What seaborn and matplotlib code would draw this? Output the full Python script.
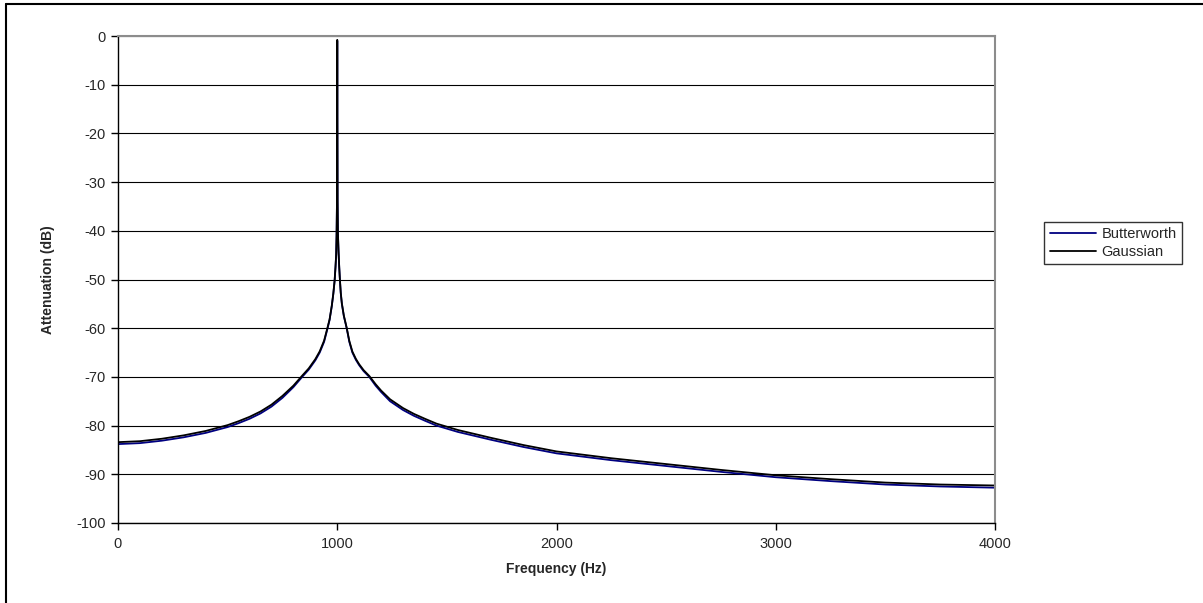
import pandas as pd
import numpy as np
import matplotlib
matplotlib.use("Agg")
import matplotlib.pyplot as plt
import seaborn as sns
from matplotlib.lines import Line2D

# frequency points (Hz)
freq = [0, 100, 200, 300, 400, 450, 500, 550, 600, 650, 700, 750, 800, 840, 870, 900,
        920, 940, 956, 965, 975, 982, 988, 992, 995, 997, 998.5, 1000, 1001.5, 1003,
        1006, 1009, 1012, 1016, 1021, 1030, 1043, 1055, 1069, 1085, 1100, 1120, 1146,
        1175, 1200, 1241, 1300, 1350, 1400, 1453, 1550, 1700, 1850, 2000, 2250, 2500,
        2750, 3000, 3250, 3500, 3750, 4000]

# attenuation (dB)
butterworth = [-83.8, -83.6, -83.1, -82.4, -81.5, -80.9, -80.3, -79.5, -78.6, -77.5,
               -76.1, -74.3, -72.1, -70.0, -68.5, -66.6, -65.0, -62.8, -60.0, -58.3,
               -55.5, -53.0, -50.3, -47.5, -45.0, -41.0, -35.0, -1.0, -34.0, -40.5,
               -44.5, -47.5, -50.0, -52.8, -55.0, -57.5, -60.0, -62.8, -65.0, -66.5,
               -67.6, -68.8, -70.0, -71.8, -73.1, -75.0, -76.8, -78.0, -79.0, -80.0,
               -81.3, -82.9, -84.4, -85.7, -87.1, -88.3, -89.5, -90.6, -91.4, -92.1,
               -92.5, -92.75]
gaussian = [-83.4, -83.2, -82.7, -82.0, -81.1, -80.5, -79.9, -79.1, -78.2, -77.1,
            -75.7, -73.9, -71.8, -69.75, -68.25, -66.35, -64.75, -62.55, -59.8, -58.2,
            -55.4, -52.9, -50.2, -47.4, -44.9, -40.9, -34.9, -0.8, -33.9, -40.4,
            -44.4, -47.4, -49.9, -52.7, -54.9, -57.4, -59.9, -62.6, -64.8, -66.3,
            -67.4, -68.6, -69.8, -71.5, -72.8, -74.6, -76.4, -77.6, -78.6, -79.6,
            -80.9, -82.5, -84.0, -85.3, -86.7, -87.9, -89.1, -90.2, -91.0, -91.7,
            -92.1, -92.3]

series_names = ["Butterworth", "Gaussian"]
y_ticks = list(range(-100, 1, 10))
x_ticks = [0, 1000, 2000, 3000, 4000]

df = pd.concat([
    pd.DataFrame({"Frequency": freq, "Attenuation": butterworth, "Filter": series_names[0]}),
    pd.DataFrame({"Frequency": freq, "Attenuation": gaussian, "Filter": series_names[1]}),
])

sns.set_style("white")
plt.rcParams["font.family"] = ["Liberation Sans", "DejaVu Sans"]
plt.rcParams["axes.unicode_minus"] = False

fig = plt.figure(figsize=(12.03, 6.03), dpi=100)
ax = fig.add_axes([118 / 1203, 80 / 603, 877 / 1203, 487 / 603])

sns.lineplot(data=df, x="Frequency", y="Attenuation", hue="Filter",
             palette={"Butterworth": "#000080", "Gaussian": "#000000"},
             linewidth=1.3, ax=ax, sort=False, estimator=None)

ax.set_xlim(0, 4000)
ax.set_ylim(-100, 0)
ax.set_xticks(x_ticks)
ax.set_yticks(y_ticks)
ax.yaxis.grid(True, color="black", linewidth=0.8)
ax.xaxis.grid(False)
ax.set_axisbelow(True)

for side in ["left", "bottom"]:
    ax.spines[side].set_color("black")
    ax.spines[side].set_linewidth(1.0)
for side in ["top", "right"]:
    ax.spines[side].set_color("#8c8c8c")
    ax.spines[side].set_linewidth(1.5)

ax.tick_params(axis="both", direction="out", length=5, width=1, color="black",
               labelsize=10.5, bottom=True, left=True)
ax.tick_params(axis="x", pad=5)
ax.tick_params(axis="y", pad=4)

ax.set_xlabel("Frequency (Hz)", fontsize=10, fontweight="bold", labelpad=8)
ax.set_ylabel("Attenuation (dB)", fontsize=10, fontweight="bold", labelpad=15)

leg = ax.legend(loc="center", bbox_to_anchor=(1113 / 1203, 1 - 243 / 603),
                bbox_transform=fig.transFigure, frameon=True, fancybox=False,
                fontsize=10.5, handlelength=3.2, handletextpad=0.35,
                borderpad=0.35, labelspacing=0.3, borderaxespad=0)
leg.get_frame().set_edgecolor("black")
leg.get_frame().set_linewidth(1.0)
for h in leg.get_lines():
    h.set_linewidth(1.3)
for t in leg.get_texts():
    t.set_x(0)

# outer chart frame (left and top edges visible)
fig.add_artist(Line2D([6 / 1203, 6 / 1203], [0, 1 - 4 / 603], transform=fig.transFigure,
                      color="black", linewidth=1.5))
fig.add_artist(Line2D([6 / 1203, 1], [1 - 4 / 603, 1 - 4 / 603], transform=fig.transFigure,
                      color="black", linewidth=1.5))

fig.savefig("out.png", dpi=100)
